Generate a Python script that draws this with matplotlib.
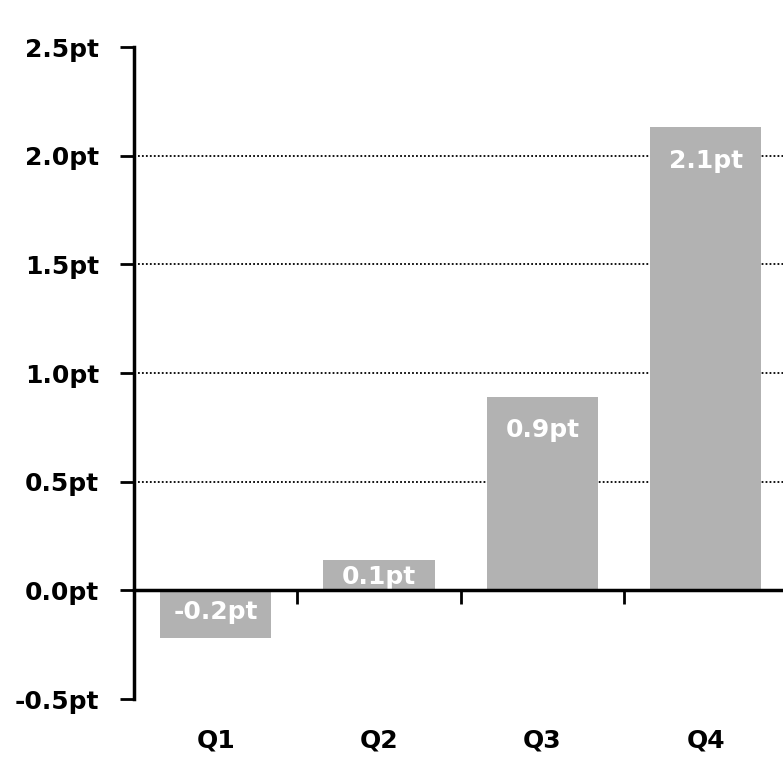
import matplotlib.pyplot as plt
import numpy as np

# quarterly change, in points
quarters = ["Q1", "Q2", "Q3", "Q4"]
changes = [-0.22, 0.14, 0.89, 2.13]
y_ticks = [-0.5, 0.0, 0.5, 1.0, 1.5, 2.0, 2.5]
grid_levels = [0.5, 1.0, 1.5, 2.0]

plt.rcParams["font.family"] = ["DejaVu Sans"]
plt.rcParams["font.weight"] = "bold"
FS = 18

fig = plt.figure(figsize=(7.83, 7.80), dpi=100)
ax = fig.add_axes([0.1711, 0.1038, 0.8346, 0.8359])

x = np.arange(len(quarters))

# dotted guide lines behind the bars
for g in grid_levels:
    ax.axhline(g, color="black", lw=1.3, ls=(0, (1, 1.2)), zorder=0)

bars = ax.bar(x, changes, width=0.68, color="#b2b2b2", zorder=2)

# white value labels inside each bar
for bar, v in zip(bars, changes):
    cx = bar.get_x() + bar.get_width() / 2
    if abs(v) > 0.5:
        ax.annotate(f"{v:.1f}pt", (cx, v), xytext=(0, -24), textcoords="offset points",
                    ha="center", va="center", color="white", fontsize=FS, fontweight="bold", zorder=3)
    else:
        ax.text(cx, v * 0.45, f"{v:.1f}pt", ha="center", va="center",
                color="white", fontsize=FS, fontweight="bold", zorder=3)

ax.set_xlim(-0.5, len(quarters) - 0.5)
ax.set_ylim(-0.5, 2.5)

ax.set_yticks(y_ticks)
ax.set_yticklabels([f"{t:.1f}pt" for t in y_ticks], fontsize=FS, fontweight="bold")
ax.tick_params(axis="y", direction="out", length=10, width=2, pad=15)

# horizontal axis sits on zero, with ticks between the quarters
ax.spines["top"].set_visible(False)
ax.spines["right"].set_visible(False)
ax.spines["bottom"].set_position(("data", 0))
ax.spines["bottom"].set_linewidth(2.5)
ax.spines["bottom"].set_zorder(4)
ax.spines["left"].set_linewidth(2.5)
ax.set_xticks(x)
ax.set_xticklabels([])
ax.tick_params(axis="x", which="major", length=0)
ax.set_xticks(x[:-1] + 0.5, minor=True)
ax.tick_params(axis="x", which="minor", direction="out", length=10, width=2)

for xi, q in zip(x, quarters):
    ax.text(xi, -0.063, q, transform=ax.get_xaxis_transform(), ha="center", va="center",
            fontsize=FS, fontweight="bold")

fig.savefig("out.png", dpi=100)
